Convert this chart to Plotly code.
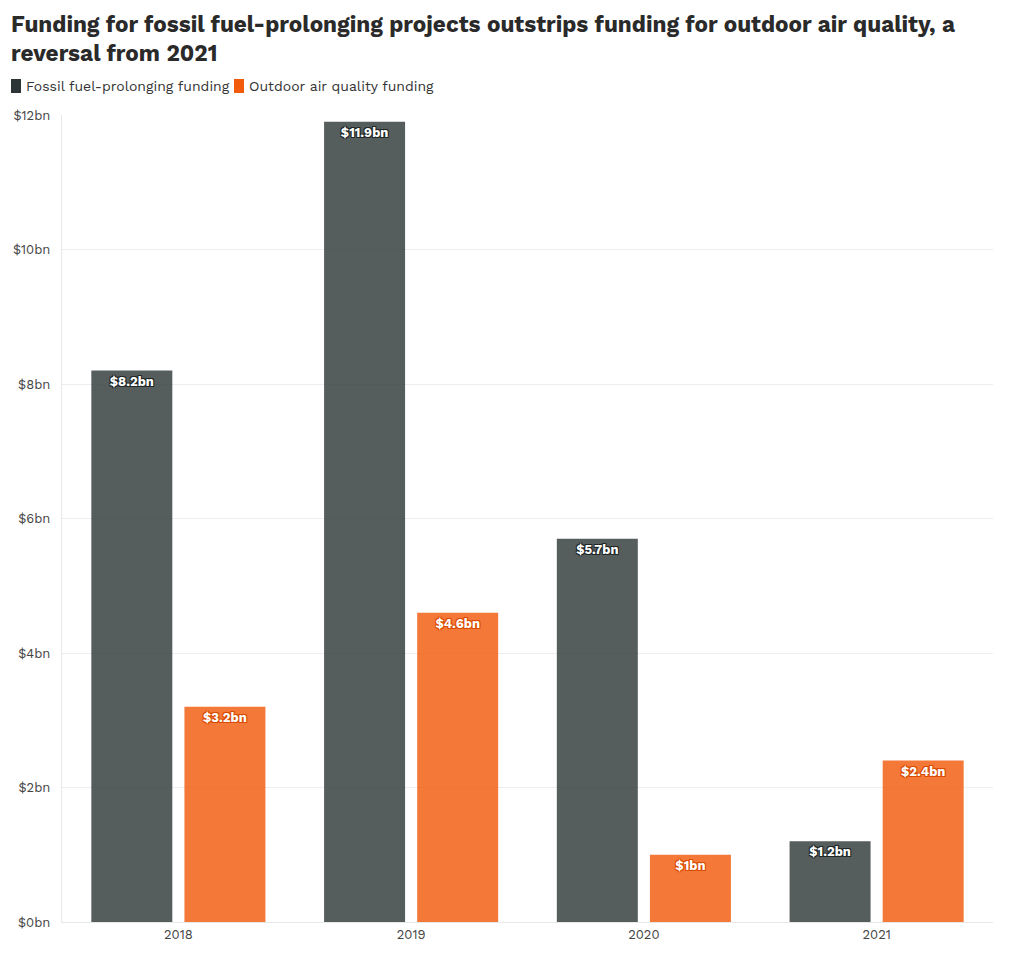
import plotly.graph_objects as go

years = ["2018", "2019", "2020", "2021"]
fossil = [8.2, 11.9, 5.7, 1.2]
air_quality = [3.2, 4.6, 1.0, 2.4]
y_ticks = [0, 2, 4, 6, 8, 10, 12]
y_tick_labels = ["$0bn", "$2bn", "$4bn", "$6bn", "$8bn", "$10bn", "$12bn"]
series_names = ["Fossil fuel-prolonging funding", "Outdoor air quality funding"]
legend_colors = ["#2b3535", "#f25a0c"]

FONT = "Work Sans, Inter, Roboto, sans-serif"

# figure geometry (page has an 8px body margin)
W, H = 1012, 952
ML, MR, MT, MB = 54, 27, 107, 38
PW, PH = W - ML - MR, H - MT - MB


def px_x(px):
    return (px - ML) / PW


def px_y(py):
    return (H - MB - py) / PH


def outline(c):
    return f"-1px -1px 0 {c}, 1px -1px 0 {c}, -1px 1px 0 {c}, 1px 1px 0 {c}"


fig = go.Figure()
fig.add_trace(go.Bar(
    x=years, y=fossil, name=series_names[0],
    marker=dict(color=legend_colors[0], opacity=0.8, line=dict(width=0)),
    texttemplate="$%{y}bn", textposition="inside", insidetextanchor="end",
    textangle=0, constraintext="none",
    textfont=dict(family=FONT, size=13, color="white", weight="bold", shadow=outline("#1e2626")),
    hoverinfo="skip", showlegend=False,
))
fig.add_trace(go.Bar(
    x=years, y=air_quality, name=series_names[1],
    marker=dict(color=legend_colors[1], opacity=0.82, line=dict(width=0)),
    texttemplate="$%{y}bn", textposition="inside", insidetextanchor="end",
    textangle=0, constraintext="none",
    textfont=dict(family=FONT, size=13, color="white", weight="bold", shadow=outline("#d94a00")),
    hoverinfo="skip", showlegend=False,
))

# custom compact legend (swatch + label)
legend_x = [3, 226]
shapes = []
annotations = []
for name, col, lx in zip(series_names, legend_colors, legend_x):
    shapes.append(dict(
        type="rect", xref="paper", yref="paper",
        x0=px_x(lx), x1=px_x(lx + 10), y0=px_y(85), y1=px_y(71),
        fillcolor=col, line=dict(width=0), layer="above",
    ))
    annotations.append(dict(
        text=name, xref="paper", yref="paper",
        x=px_x(lx + 13), y=px_y(78), xanchor="left", yanchor="middle",
        showarrow=False, font=dict(family=FONT, size=14, color="#333"),
    ))

fig.update_layout(
    width=W, height=H,
    paper_bgcolor="white", plot_bgcolor="white",
    margin=dict(l=ML, r=MR, t=MT, b=MB, autoexpand=False),
    barmode="group", bargap=0.2, bargroupgap=0.13,
    font=dict(family=FONT, size=13, color="#444"),
    title=dict(
        text="Funding for fossil fuel-prolonging projects outstrips funding for outdoor air quality, a<br>reversal from 2021",
        x=3 / W, xanchor="left", xref="container",
        y=0.975, yanchor="top", yref="container",
        font=dict(family=FONT, size=22.5, color="#2a2a2a", weight="bold"),
    ),
    showlegend=False,
    shapes=shapes,
    annotations=annotations,
    xaxis=dict(
        showgrid=False, showline=True, linecolor="#e8e8e8", linewidth=1,
        ticks="", tickfont=dict(size=13, color="#444"), automargin=False,
    ),
    yaxis=dict(
        range=[0, 12], tickvals=y_ticks, ticktext=y_tick_labels,
        showgrid=True, gridcolor="#eeeeee", gridwidth=1,
        showline=True, linecolor="#e8e8e8", linewidth=1,
        zeroline=False, ticks="", tickfont=dict(size=13, color="#444"),
        ticklabelstandoff=8, automargin=False,
    ),
)

fig.write_html("out.html")
